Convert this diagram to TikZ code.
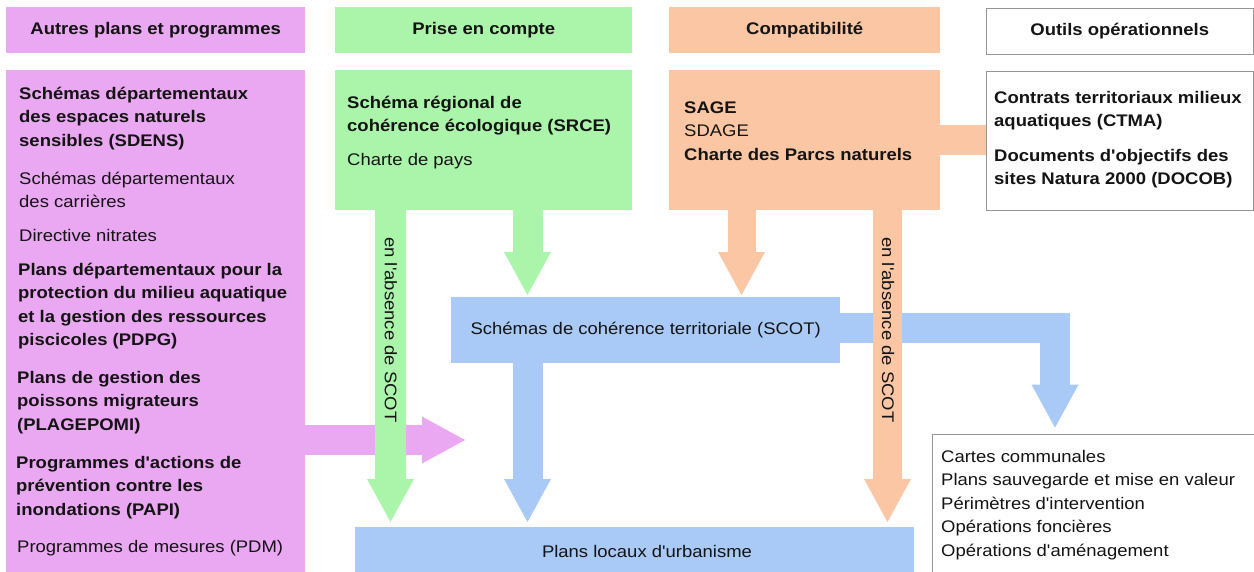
\documentclass[tikz,border=0pt]{standalone}
\usepackage{fontspec}
\setmainfont{Liberation Sans}[FakeStretch=1.1,Ligatures=TeXOff]
\usetikzlibrary{arrows.meta,calc}
\definecolor{cpink}{RGB}{234,167,242}
\definecolor{cgreen}{RGB}{170,245,170}
\definecolor{corange}{RGB}{250,198,163}
\definecolor{cblue}{RGB}{169,201,247}
\definecolor{cgray}{RGB}{150,150,150}
\definecolor{ctext}{RGB}{20,20,20}
\newcommand\myfs{\fontsize{16.8}{23.4}\selectfont}
\begin{document}
\begin{tikzpicture}[x=1pt,y=-1pt,
  box/.style={rectangle,inner sep=0pt,anchor=north west,font=\myfs\bfseries,text=ctext},
  wbox/.style={box,draw=cgray,line width=1.2pt,fill=white},
  lb/.style={inner sep=0pt,anchor=base west,font=\myfs\bfseries,text=ctext},
  lr/.style={inner sep=0pt,anchor=base west,font=\myfs,text=ctext},
  fat/.style={line width=#1,line cap=butt,line join=miter,
    -{Triangle[width=47pt,length=43pt,line width=0pt]}},
  fat/.default=30pt,
  band/.style={line width=30pt,line cap=butt}]
\useasboundingbox (0,0) rectangle (1254,571);
\fill[white] (0,0) rectangle (1254,571);
% headers
\node[box,fill=cpink,minimum width=299pt,minimum height=46pt] (hpink) at (6,7) {Autres plans et programmes};
\node[box,fill=cgreen,minimum width=297pt,minimum height=46pt] (hgreen) at (335,7) {Prise en compte};
\node[box,fill=corange,minimum width=271pt,minimum height=46pt] (horange) at (669,7) {Compatibilit\'e};
\node[wbox,minimum width=267pt,minimum height=46pt] (hwhite) at (985.6,7.6) {Outils op\'erationnels};
% main boxes
\node[box,fill=cpink,minimum width=299pt,minimum height=520pt] (pmain) at (6,70) {};
\node[box,fill=cgreen,minimum width=297pt,minimum height=140pt] (gmain) at (335,70) {};
\node[box,fill=corange,minimum width=271pt,minimum height=140pt] (omain) at (669,70) {};
\node[wbox,minimum width=267pt,minimum height=139pt] (wmain) at (985.6,70.6) {};
\node[box,fill=cblue,minimum width=389pt,minimum height=66pt,font=\myfs] (scot) at (451,297) {Sch\'emas de coh\'erence territoriale (SCOT)};
\node[box,fill=cblue,minimum width=559pt,minimum height=60pt] (plu) at (355,527) {};
\node[wbox,minimum width=330pt,minimum height=150pt] (outils) at (931.6,433.6) {};
\node[font=\myfs,text=ctext,inner sep=0pt] (plutext) at (647,551) {Plans locaux d'urbanisme};
% coordinates
\coordinate (gl) at (390.5,0);
\coordinate (gr) at (527.5,0);
\coordinate (ol) at (741.5,0);
\coordinate (or) at (887.5,0);
\coordinate (bl) at (1055,0);
\coordinate (pinktip) at (465,440);
\coordinate (gltip) at ($(plu.north -| gl)+(0,-5)$);
\coordinate (grtip) at ($(scot.north -| gr)+(0,-2)$);
\coordinate (oltip) at ($(scot.north -| ol)+(0,-2)$);
\coordinate (ortip) at ($(plu.north -| or)+(0,-5)$);
\coordinate (bdtip) at ($(plu.north -| gr)+(0,-5)$);
\coordinate (bltip) at ($(outils.north -| bl)+(0,-6)$);
\coordinate (band) at (0,327.5);
% connector between orange and white boxes
\draw[band,corange] (omain.east |- 0,140) -- (wmain.west |- 0,140);
% arrows
\draw[fat,cpink] (pmain.east |- pinktip) -- (pinktip);
\draw[fat,cblue] (scot.east |- band) -| (bltip);
\draw[fat,cblue] (scot.south -| gr) -- (bdtip);
\draw[fat,cgreen] (gmain.south -| gr) -- (grtip);
\draw[fat=28pt,corange] (omain.south -| ol) -- (oltip);
\draw[fat=31pt,cgreen] (gmain.south -| gl) -- (gltip);
\draw[fat=29pt,corange] (omain.south -| or) -- (ortip);
\node[font=\myfs,text=ctext,inner sep=0pt,rotate=-90] (absg) at (391,330) {en l'absence de SCOT};
\node[font=\myfs,text=ctext,inner sep=0pt,rotate=-90] (abso) at (888,330) {en l'absence de SCOT};
% pink texts
\node[lb] (p1) at (19,99) {Sch\'emas d\'epartementaux};
\node[lb] (p2) at (19,122.5) {des espaces naturels};
\node[lb] (p3) at (19,146) {sensibles (SDENS)};
\node[lr] (p4) at (19,184) {Sch\'emas d\'epartementaux};
\node[lr] (p5) at (19,207.5) {des carri\`eres};
\node[lr] (p6) at (19,241) {Directive nitrates};
\node[lb] (p7) at (18,275) {Plans d\'epartementaux pour la};
\node[lb] (p8) at (18,298.5) {protection du milieu aquatique};
\node[lb] (p9) at (18,322) {et la gestion des ressources};
\node[lb] (p10) at (18,345.5) {piscicoles (PDPG)};
\node[lb] (p11) at (17,383) {Plans de gestion des};
\node[lb] (p12) at (17,406.5) {poissons migrateurs};
\node[lb] (p13) at (17,430) {(PLAGEPOMI)};
\node[lb] (p14) at (16,468) {Programmes d'actions de};
\node[lb] (p15) at (16,491.5) {pr\'evention contre les};
\node[lb] (p16) at (16,515) {inondations (PAPI)};
\node[lr] (p17) at (17,552) {Programmes de mesures (PDM)};
% green texts
\node[lb] (g1) at (347,108) {Sch\'ema r\'egional de};
\node[lb] (g2) at (347,131.5) {coh\'erence \'ecologique (SRCE)};
\node[lr] (g3) at (347,165) {Charte de pays};
% orange texts
\node[lb] (o1) at (684,113) {SAGE};
\node[lr] (o2) at (684,136.5) {SDAGE};
\node[lb] (o3) at (684,160) {Charte des Parcs naturels};
% white texts
\node[lb] (w1) at (994,103) {Contrats territoriaux milieux};
\node[lb] (w2) at (994,126.5) {aquatiques (CTMA)};
\node[lb] (w3) at (994,161) {Documents d'objectifs des};
\node[lb] (w4) at (994,184.5) {sites Natura 2000 (DOCOB)};
% outils texts
\node[lr] (t1) at (941,462) {Cartes communales};
\node[lr] (t2) at (941,485.5) {Plans sauvegarde et mise en valeur};
\node[lr] (t3) at (941,509) {P\'erim\`etres d'intervention};
\node[lr] (t4) at (941,532.5) {Op\'erations fonci\`eres};
\node[lr] (t5) at (941,556) {Op\'erations d'am\'enagement};
\end{tikzpicture}
\end{document}
